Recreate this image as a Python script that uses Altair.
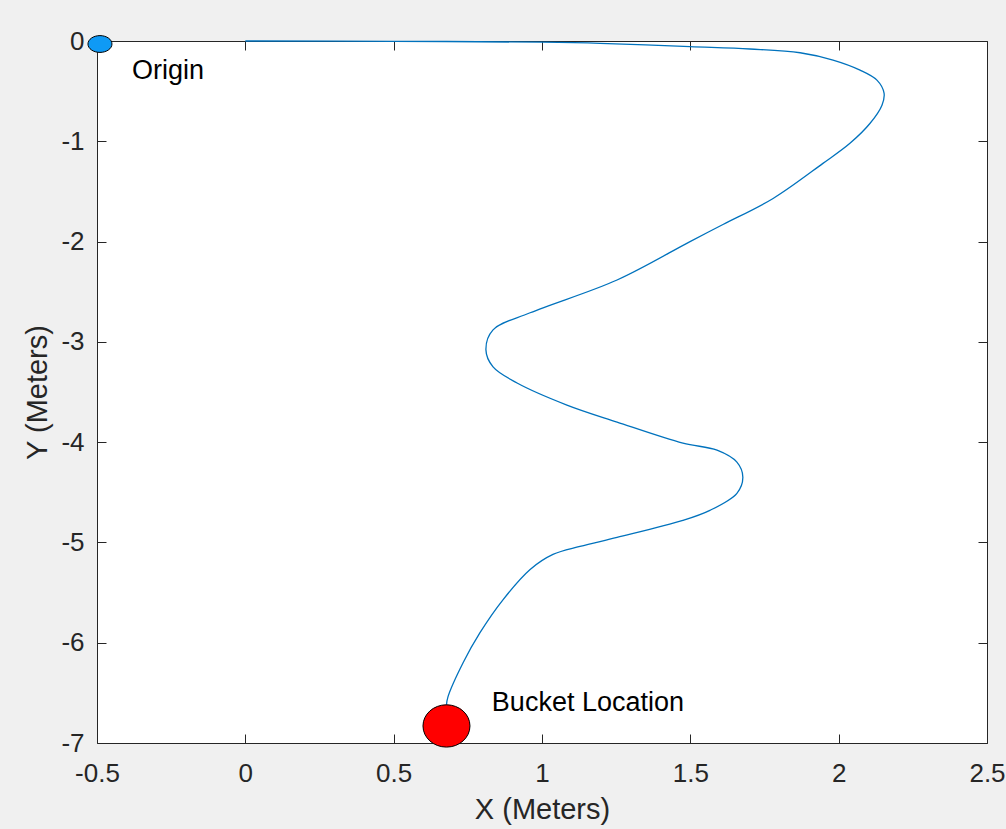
import altair as alt
import pandas as pd

# Path of the robot (metres)
path_x = [0.0, 0.5, 1.0, 1.196, 1.499, 1.701, 1.870, 1.981, 2.072, 2.129, 2.153, 2.146,
          2.106, 2.038, 1.947, 1.779, 1.61, 1.499, 1.253, 0.96, 0.835, 0.811, 0.835,
          0.916, 1.084, 1.253, 1.475, 1.59, 1.657, 1.677, 1.657, 1.566, 1.475, 1.253, 1.128,
          1.037, 0.96, 0.869, 0.791, 0.734, 0.683, 0.678]
path_y = [0.0, -0.003, -0.012, -0.023, -0.057, -0.08, -0.117, -0.19, -0.29, -0.39, -0.52,
          -0.64, -0.82, -1.02, -1.22, -1.57, -1.83, -2.0, -2.383, -2.71, -2.88, -3.08,
          -3.25, -3.41, -3.63, -3.80, -4.01, -4.08, -4.20, -4.35, -4.51, -4.68, -4.78, -4.95,
          -5.04, -5.12, -5.27, -5.57, -5.90, -6.20, -6.54, -6.62]

origin_x, origin_y = [-0.49], [-0.03]
bucket_x, bucket_y = [0.678], [-6.83]

labels_text = ["Origin", "Bucket Location"]
labels_x = [-0.382, 0.831]
labels_y = [-0.30, -6.60]

x_ticks = [-0.5, 0, 0.5, 1, 1.5, 2, 2.5]
y_ticks = [0, -1, -2, -3, -4, -5, -6, -7]

path_df = pd.DataFrame({"x": path_x, "y": path_y, "i": list(range(len(path_x)))})
origin_df = pd.DataFrame({"x": origin_x, "y": origin_y})
bucket_df = pd.DataFrame({"x": bucket_x, "y": bucket_y})
text_df = pd.DataFrame({"x": labels_x, "y": labels_y, "t": labels_text})

FONT = "Liberation Sans"
AX = "#262626"
xscale = alt.Scale(domain=[-0.5, 2.5], nice=False, zero=False)
yscale = alt.Scale(domain=[-7, 0], nice=False, zero=False)


def label_axis(orient, title, values, pad, tpad):
    return alt.Axis(orient=orient, title=title, values=values, ticks=False, domain=False,
                    grid=False, labelFontSize=26, labelColor=AX, labelFont=FONT,
                    labelPadding=pad, labelExpr="'' + datum.value", labelFlush=False,
                    labelOverlap=False,
                    titleFont=FONT, titleFontSize=29, titleFontWeight="normal",
                    titleColor=AX, titlePadding=tpad)


def tick_axis(orient, values):
    return alt.Axis(orient=orient, title="", values=values, ticks=True, tickSize=9,
                    tickColor=AX, tickWidth=1, labels=False, domain=False, grid=False,
                    offset=-9)


line = alt.Chart(path_df).mark_line(color="#0072BD", strokeWidth=1.3,
                                    interpolate="catmull-rom").encode(
    x=alt.X("x:Q", scale=xscale, axis=label_axis("bottom", "X (Meters)", x_ticks, 17, 9)),
    y=alt.Y("y:Q", scale=yscale, axis=label_axis("left", "Y (Meters)", y_ticks, 13, 8)),
    order="i:Q",
)

ellipse_small = "M-1,0A1,0.7,0,1,0,1,0A1,0.7,0,1,0,-1,0Z"
ellipse_big = "M-1,0A1,0.9,0,1,0,1,0A1,0.9,0,1,0,-1,0Z"

origin = alt.Chart(origin_df).mark_point(shape=ellipse_small, filled=True, fill="#0f9af5",
                                         stroke="black", strokeWidth=1, opacity=1,
                                         size=576).encode(
    x=alt.X("x:Q", scale=xscale, axis=tick_axis("bottom", x_ticks)),
    y=alt.Y("y:Q", scale=yscale, axis=tick_axis("left", y_ticks)),
)

bucket = alt.Chart(bucket_df).mark_point(shape=ellipse_big, filled=True, fill="#ff0000",
                                         stroke="black", strokeWidth=1, opacity=1,
                                         size=2209).encode(
    x=alt.X("x:Q", scale=xscale, axis=tick_axis("top", x_ticks)),
    y=alt.Y("y:Q", scale=yscale, axis=tick_axis("right", y_ticks)),
)

texts = alt.Chart(text_df).mark_text(align="left", baseline="middle", fontSize=27,
                                     font=FONT, color="black").encode(
    x=alt.X("x:Q", scale=xscale, axis=None),
    y=alt.Y("y:Q", scale=yscale, axis=None),
    text="t:N",
)

chart = alt.layer(line, origin, bucket, texts).resolve_axis(
    x="independent", y="independent"
).properties(
    width=890, height=702,
    autosize=alt.AutoSizeParams(type="none"),
    padding={"left": 97, "top": 41, "right": 19, "bottom": 86},
    background="#f0f0f0",
).configure_view(
    fill="white", stroke=AX, strokeWidth=1
)

chart.save("out.html", embed_options={"renderer": "svg", "actions": False})
